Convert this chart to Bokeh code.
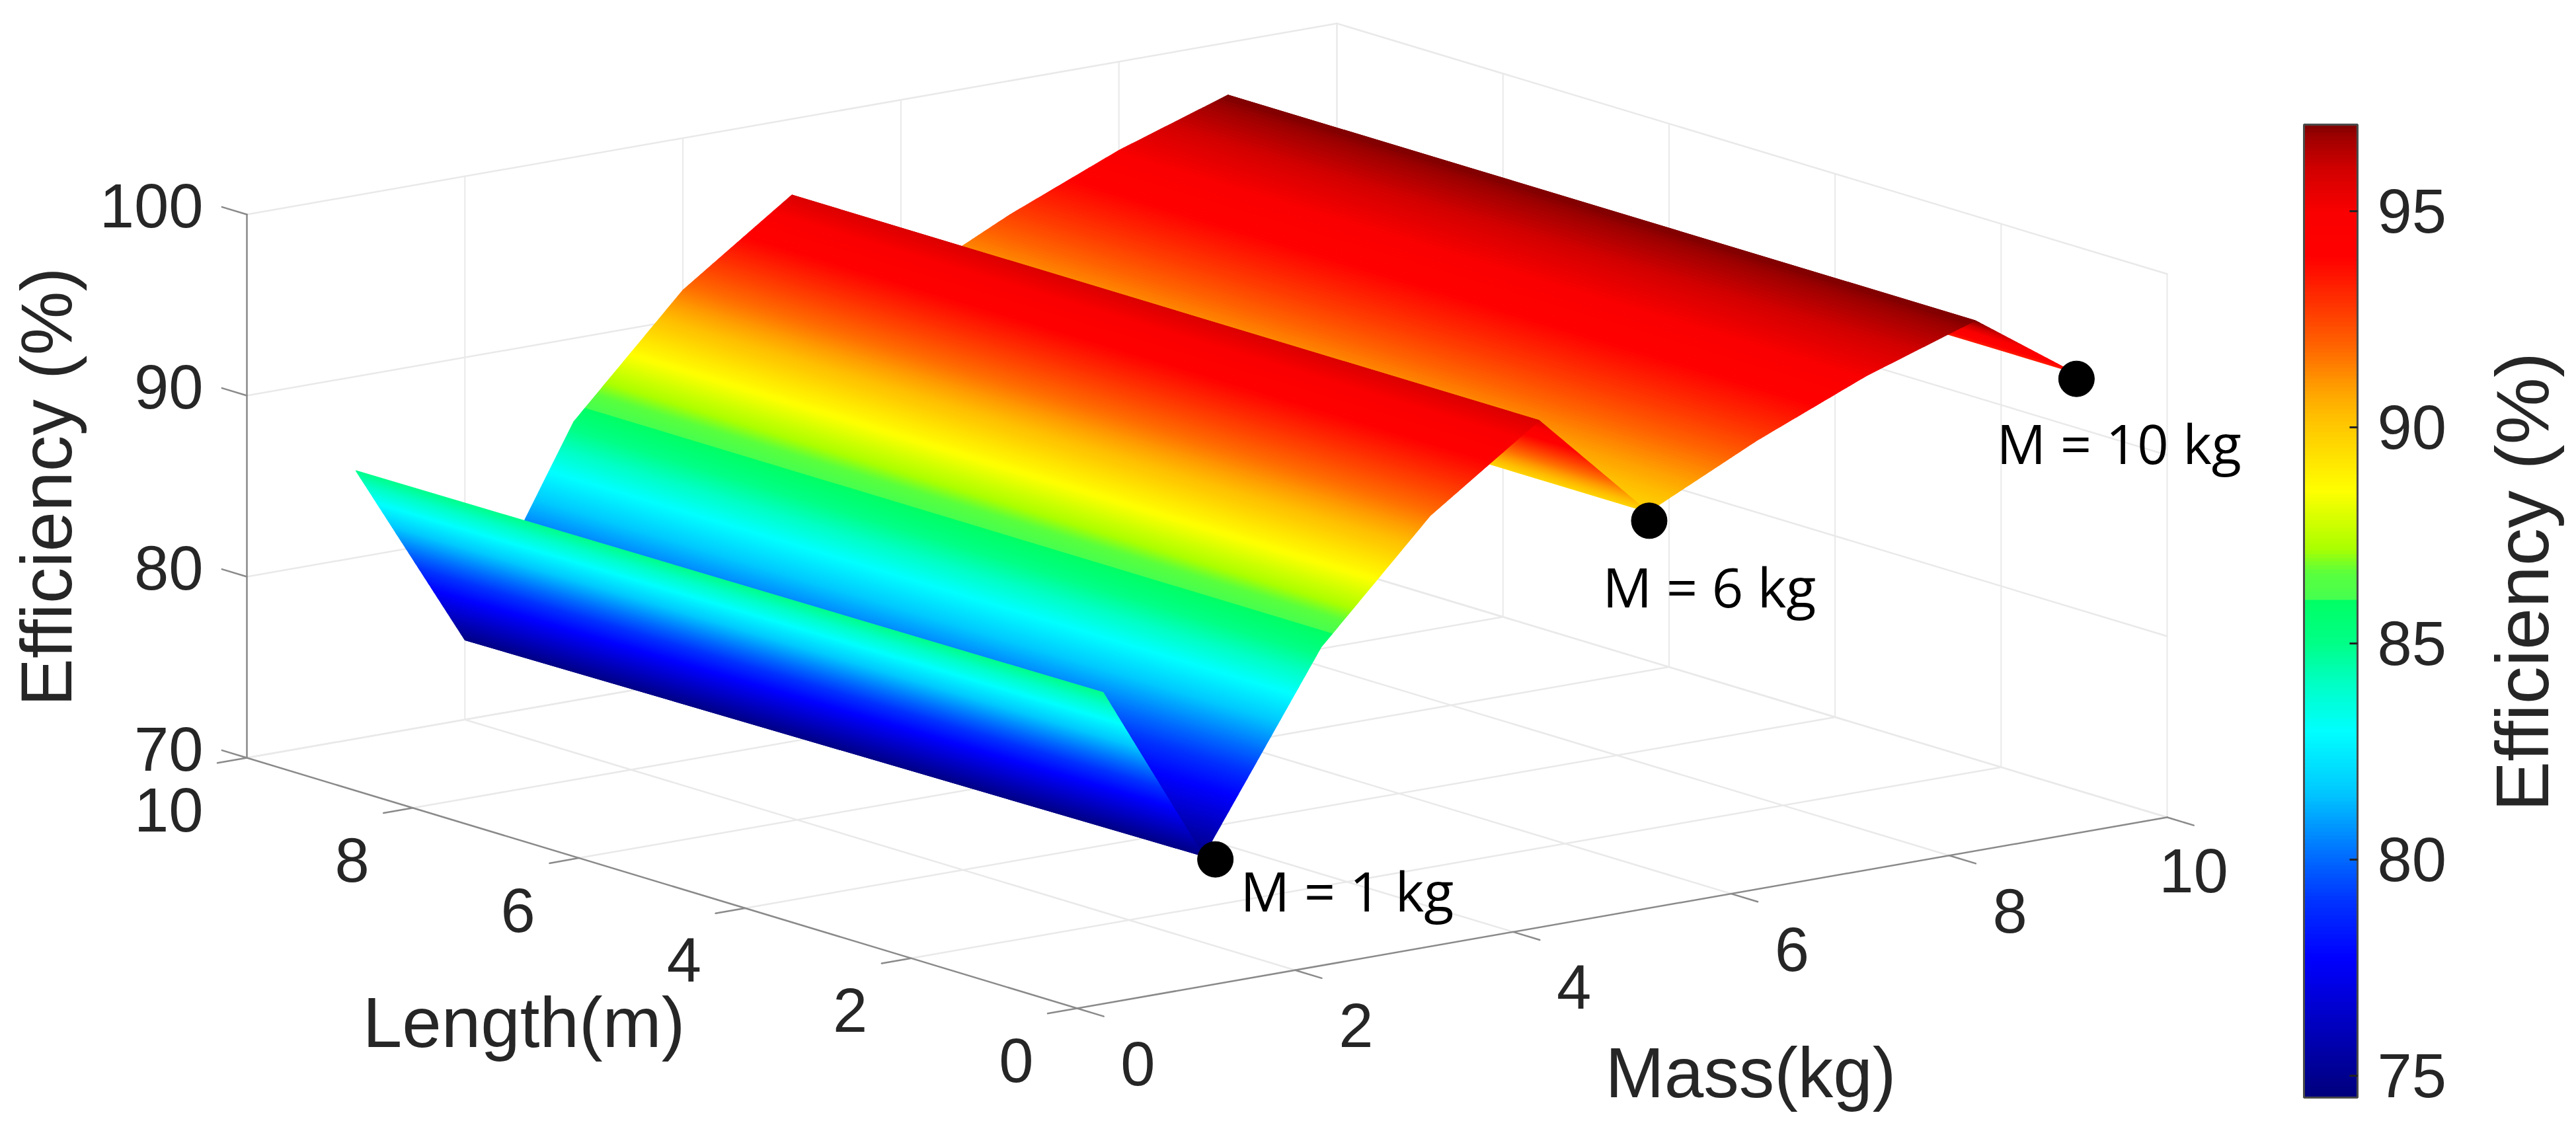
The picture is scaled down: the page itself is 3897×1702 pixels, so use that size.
import numpy as np
from bokeh.core.properties import value
from bokeh.embed import file_html
from bokeh.models import ColorBar, ColumnDataSource, FixedTicker, LinearColorMapper, Range1d
from bokeh.plotting import figure
from bokeh.resources import INLINE

# ---------- data ----------
length_near, length_far = 1.0, 10.0
mass_near = [1.0, 1.92, 3.0, 4.0, 5.0, 6.0, 7.0, 8.0, 9.0, 9.9]
mass_far = [1.0, 2.0, 3.0, 4.0, 5.0, 6.0, 7.0, 8.0, 9.0, 9.9]
eff_near = [85.0, 75.0, 85.4, 91.6, 95.8, 89.7, 92.6, 95.1, 97.1, 93.3]
eff_far = [84.8, 74.4, 85.4, 91.6, 95.8, 89.7, 92.6, 95.1, 97.1, 93.3]

marker_mass = [2.03, 6.01, 9.93]
marker_length = [1.0, 1.0, 1.0]
marker_eff = [74.7, 89.2, 92.9]

mass_ticks = [0, 2, 4, 6, 8, 10]
length_ticks = [0, 2, 4, 6, 8, 10]
eff_ticks = [70, 80, 90, 100]
cbar_ticks = [75, 80, 85, 90, 95]
cbar_low, cbar_high = 74.5, 97.0

# colour scale
stop_z = [74.5, 77.7, 79.0, 80.0, 81.55, 82.95, 84.0, 85.0, 86.0, 86.02, 86.65, 87.2, 88.55,
          90.3, 90.9, 91.9, 92.9, 93.97, 95.0, 96.0, 96.8, 97.0]
stop_r = [0, 0, 0, 0, 0, 0, 0, 0, 0, 70, 90, 170, 255, 255, 255, 255, 255, 255, 250, 210, 155, 130]
stop_g = [0, 0, 50, 105, 200, 255, 255, 255, 255, 255, 255, 255, 255, 190, 160, 100, 50, 0, 0, 0, 0, 0]
stop_b = [125, 255, 255, 255, 255, 255, 200, 135, 100, 80, 60, 0, 0, 0, 0, 0, 0, 0, 0, 0, 0, 0]

TEXT = "#262626"
AXIS = "#8a8a8a"
GRID = "#e9e9e9"
FONT = value("Liberation Sans")


def proj(m, l, z):
    """Orthographic 3D view -> page coordinates."""
    return (1629 + 164.9 * m - 125.6 * l,
            1525 - 28.9 * m - 37.9 * l - 27.4 * (z - 70))


def eff_color(z):
    r = np.interp(z, stop_z, stop_r)
    g = np.interp(z, stop_z, stop_g)
    b = np.interp(z, stop_z, stop_b)
    return "#%02x%02x%02x" % (int(round(r)), int(round(g)), int(round(b)))


p = figure(width=3897, height=1702, output_backend="svg", toolbar_location=None,
           x_range=Range1d(0, 3897), y_range=Range1d(1702, 0), min_border=0)
p.axis.visible = False
p.grid.visible = False
p.outline_line_color = None
p.background_fill_color = "white"


def seg(a, b, color, width):
    p.line([a[0], b[0]], [a[1], b[1]], line_color=color, line_width=width, line_cap="round")


# ---------- box grid ----------
for z in eff_ticks:
    seg(proj(0, 10, z), proj(10, 10, z), GRID, 2.5)
    seg(proj(10, 10, z), proj(10, 0, z), GRID, 2.5)
for m in mass_ticks:
    seg(proj(m, 10, 70), proj(m, 10, 100), GRID, 2)
    if m > 0:
        seg(proj(m, 0, 70), proj(m, 10, 70), GRID, 2.5)
for l in length_ticks:
    seg(proj(10, l, 70), proj(10, l, 100), GRID, 2)
    if l > 0:
        seg(proj(0, l, 70), proj(10, l, 70), GRID, 2.5)

# ---------- axes and ticks ----------
seg(proj(0, 10, 70), proj(0, 10, 100), AXIS, 2.5)
seg(proj(0, 0, 70), proj(0, 10, 70), AXIS, 2.5)
seg(proj(0, 0, 70), proj(10, 0, 70), AXIS, 2.5)
for z in eff_ticks:
    seg(proj(0, 10, z), proj(0, 10.3, z), AXIS, 2.5)
for l in length_ticks:
    seg(proj(0, l, 70), proj(-0.27, l, 70), AXIS, 2.5)
for m in mass_ticks:
    seg(proj(m, 0, 70), proj(m, -0.32, 70), AXIS, 2.5)

# ---------- surface, painted far to near in thin interpolated strips ----------
xs, ys, cols = [], [], []
for i in range(len(mass_near) - 2, -1, -1):
    zn0, zn1 = eff_near[i], eff_near[i + 1]
    zf0, zf1 = eff_far[i], eff_far[i + 1]
    mn0, mn1 = mass_near[i], mass_near[i + 1]
    mf0, mf1 = mass_far[i], mass_far[i + 1]
    n = int(np.ceil(max(abs(zn1 - zn0), abs(zf1 - zf0)) / 0.08)) + 1
    for k in range(n - 1, -1, -1):
        a, b = k / n, (k + 1) / n
        c = [proj(mn0 + (mn1 - mn0) * a, length_near, zn0 + (zn1 - zn0) * a),
             proj(mn0 + (mn1 - mn0) * b, length_near, zn0 + (zn1 - zn0) * b),
             proj(mf0 + (mf1 - mf0) * b, length_far, zf0 + (zf1 - zf0) * b),
             proj(mf0 + (mf1 - mf0) * a, length_far, zf0 + (zf1 - zf0) * a)]
        xs.append([q[0] for q in c])
        ys.append([q[1] for q in c])
        cols.append(eff_color((zn0 + zf0) / 2 + ((zn1 + zf1) - (zn0 + zf0)) / 2 * (a + b) / 2))
surf = ColumnDataSource(dict(xs=xs, ys=ys, c=cols))
p.patches("xs", "ys", source=surf, fill_color="c", line_color="c", line_width=1.2)

# ---------- markers ----------
mk = [proj(m, l, z) for m, l, z in zip(marker_mass, marker_length, marker_eff)]
p.scatter([q[0] for q in mk], [q[1] for q in mk], size=54, color="black")


def label(x, y, s, size, align="center", angle=0.0, font=FONT, color=TEXT):
    p.text([x], [y], text=[s], text_font=font, text_font_size=f"{size}px", text_color=color,
           text_align=align, text_baseline="middle", angle=angle)


def on_baseline(x, y, s, size, align="center", font=FONT, color=TEXT):
    label(x, y - 0.35 * size, s, size, align=align, font=font, color=color)


def on_baseline_rot(x, y, s, size, font=FONT, color=TEXT):
    label(x - 0.35 * size, y, s, size, angle=np.pi / 2, font=font, color=color)


# ---------- tick labels ----------
for z in eff_ticks:
    x, y = proj(0, 10, z)
    label(x - 66, y - 13, str(z), 94, align="right")
for l in length_ticks:
    x, y = proj(0, l, 70)
    label(x - 66, y + 79, str(l), 94, align="right")
for m in mass_ticks:
    x, y = proj(m, 0, 70)
    if m == 10:
        label(x + 40, y + 81, str(m), 94)
    else:
        label(x + 92, y + 84, str(m), 94)

# ---------- axis titles ----------
on_baseline(792, 1584, "Length(m)", 107)
on_baseline(2648, 1660, "Mass(kg)", 107)
on_baseline_rot(108, 736, "Efficiency (%)", 109)
on_baseline_rot(3855, 880, "Efficiency (%)", 114)

# ---------- annotations ----------
ann = value("Open Sans")
on_baseline(1876, 1375, "M = 1 kg", 83, align="left", font=ann, color="black")
on_baseline(2424, 915, "M = 6 kg", 83, align="left", font=ann, color="black")
on_baseline(3020, 698, "M = 10 kg", 83, align="left", font=ann, color="black")

# ---------- colour bar ----------
bar_levels = np.linspace(cbar_low, cbar_high, 256)
palette = [eff_color(v) for v in bar_levels]
mapper = LinearColorMapper(palette=palette, low=cbar_low, high=cbar_high)
cb = ColorBar(color_mapper=mapper, ticker=FixedTicker(ticks=cbar_ticks),
              location=(3485, 42), width=81, height=1472, padding=0, margin=0,
              major_label_text_font="Liberation Sans", major_label_text_font_size="94px",
              major_label_text_color=TEXT, label_standoff=30,
              major_tick_in=12, major_tick_out=0, major_tick_line_color="#222222",
              major_tick_line_width=3, minor_tick_line_color=None,
              bar_line_color="#4a4a4a", bar_line_width=3, background_fill_color=None,
              border_line_color=None)
p.add_layout(cb, "center")

open("out.html", "w").write(file_html(p, INLINE))
